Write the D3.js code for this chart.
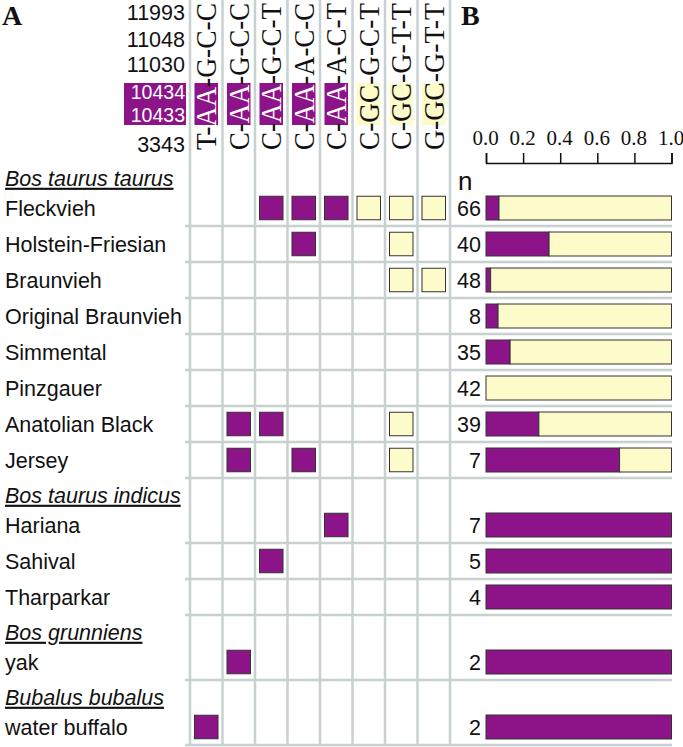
<!DOCTYPE html>
<html>
<head>
<meta charset="utf-8">
<script src="https://cdn.jsdelivr.net/npm/d3@7"></script>
<style>
body { margin: 0; background: #fff; }
svg text { font-family: "Liberation Sans", Arial, Helvetica, sans-serif; fill: #111; }
svg .serif, svg .serif text { font-family: "Liberation Serif", "Times New Roman", serif; }
</style>
</head>
<body>
<div id="chart"></div>
<script>
// mtDNA positions listed in the header, top to bottom
var sites = ["11993", "11048", "11030", "10434", "10433", "3343"];
// haplotype columns, read from position 3343 up to 11993
var haplotypes = ["T-AA-G-C-C", "C-AA-G-C-C", "C-AA-G-C-T", "C-AA-A-C-C",
  "C-AA-A-C-T", "C-GC-G-C-T", "C-GC-G-T-T", "G-GC-G-T-T"];
var groups = ["Bos taurus taurus", "Bos taurus indicus", "Bos grunniens", "Bubalus bubalus"];
var breeds = ["Fleckvieh", "Holstein-Friesian", "Braunvieh", "Original Braunvieh",
  "Simmental", "Pinzgauer", "Anatolian Black", "Jersey",
  "Hariana", "Sahival", "Tharparkar", "yak", "water buffalo"];
var breedGroup = [0, 0, 0, 0, 0, 0, 0, 0, 1, 1, 1, 2, 3];
// haplotype columns (1-based) found in each breed
var foundHaps = [[3, 4, 5, 6, 7, 8], [4, 7], [7, 8], [], [], [], [2, 3, 7], [2, 4, 7],
  [5], [3], [], [2], [1]];
// n and frequency of the AA variant (panel B)
var sampleN = [66, 40, 48, 8, 35, 42, 39, 7, 7, 5, 4, 2, 2];
var freqAA = [0.07, 0.34, 0.025, 0.065, 0.13, 0, 0.285, 0.72, 1, 1, 1, 1, 1];
var freqTicks = [0, 0.2, 0.4, 0.6, 0.8, 1.0];

var W = 683, H = 747;
var purple = "#8c1488", cream = "#fcfbc9", grid = "#c8d0d0";

var svg = d3.select("#chart").append("svg")
  .attr("width", W).attr("height", H);

// layout of the rows: fixed step, extra gap for every species header
var rowStep = 36, headGap = 29, firstRow = 208;
var y = d3.scaleOrdinal()
  .domain(breeds)
  .range(breeds.map(function(b, i) { return firstRow + i * rowStep + breedGroup[i] * headGap; }));
var headY = groups.map(function(g, gi) {
  return y(breeds[breedGroup.indexOf(gi)]) - 30;
});

// columns of panel A
var x = d3.scaleBand().domain(haplotypes).range([190, 450]);
var bw = x.bandwidth();
// panel B scale
var xB = d3.scaleLinear().domain([0, 1]).range([486, 671.5]);

// site label positions in the header
var siteY = d3.scaleOrdinal().domain(sites).range([12, 39, 64, 92, 115, 144]);
var hlTop = 83, hlBottom = 125;

// grid lines
var gridG = svg.append("g");
gridG.selectAll("line.v")
  .data(haplotypes.map(function(h) { return x(h); }).concat([x.range()[1]]))
  .enter().append("line")
  .attr("x1", function(d) { return d; }).attr("x2", function(d) { return d; })
  .attr("y1", 0).attr("y2", 745)
  .attr("stroke", grid).attr("stroke-width", 2.5);
gridG.selectAll("line.h")
  .data(breeds)
  .enter().append("line")
  .attr("x1", 185).attr("x2", 672)
  .attr("y1", function(d) { return y(d) + 18; })
  .attr("y2", function(d) { return y(d) + 18; })
  .attr("stroke", grid).attr("stroke-width", 2.5);

// panel letters
svg.append("text").attr("class", "serif").attr("x", 2).attr("y", 25)
  .style("font-size", "28px").style("font-weight", "bold").text("A");
svg.append("text").attr("class", "serif").attr("x", 461).attr("y", 25)
  .style("font-size", "28px").style("font-weight", "bold").text("B");

// site labels
svg.append("rect")
  .attr("x", 124).attr("y", hlTop).attr("width", 62).attr("height", hlBottom - hlTop)
  .attr("fill", purple);
svg.selectAll(".site")
  .data(sites)
  .enter().append("text")
  .attr("class", "site")
  .attr("x", 185)
  .attr("y", function(d) { return siteY(d); })
  .attr("dy", "0.36em")
  .attr("text-anchor", "end")
  .style("font-size", function(d) { return d === "10434" || d === "10433" ? "19.5px" : "21.5px"; })
  .style("fill", function(d) { return d === "10434" || d === "10433" ? "#fff" : "#111"; })
  .text(function(d) { return d; });

// haplotype header highlights and text
var hapG = svg.selectAll(".hap")
  .data(haplotypes)
  .enter().append("g").attr("class", "hap serif");
hapG.append("rect")
  .attr("x", function(d) { return x(d) + bw / 2 - 11.75; })
  .attr("y", hlTop).attr("width", 23.5).attr("height", hlBottom - hlTop)
  .attr("fill", function(d) { return d.slice(2, 4) === "AA" ? purple : cream; });
var hapText = hapG.append("text")
  .attr("transform", function(d) {
    return "translate(" + (x(d) + bw / 2 + 10) + ",150) rotate(-90) scale(1,1.15)";
  })
  .attr("textLength", 147)
  .attr("lengthAdjust", "spacingAndGlyphs")
  .style("font-size", "26.5px");
hapText.append("tspan").text(function(d) { return d.slice(0, 2); });
hapText.append("tspan")
  .style("fill", function(d) { return d.slice(2, 4) === "AA" ? "#fff" : "#111"; })
  .text(function(d) { return d.slice(2, 4); });
hapText.append("tspan").text(function(d) { return d.slice(4); });

// species headers
svg.selectAll(".grp")
  .data(groups)
  .enter().append("text")
  .attr("x", 5)
  .attr("y", function(d, i) { return headY[i]; })
  .attr("dy", "0.36em")
  .style("font-size", "21.5px")
  .style("font-style", "italic")
  .style("text-decoration", "underline")
  .text(function(d) { return d; });

// breed labels
svg.selectAll(".breed")
  .data(breeds)
  .enter().append("text")
  .attr("x", 5)
  .attr("y", function(d) { return y(d); })
  .attr("dy", "0.36em")
  .style("font-size", "21.5px")
  .text(function(d) { return d; });

// presence squares
var cells = [];
breeds.forEach(function(b, i) {
  foundHaps[i].forEach(function(c) { cells.push({breed: b, hap: haplotypes[c - 1]}); });
});
svg.selectAll(".cell")
  .data(cells)
  .enter().append("rect")
  .attr("x", function(d) { return x(d.hap) + bw / 2 - 11.75; })
  .attr("y", function(d) { return y(d.breed) - 11.75; })
  .attr("width", 23.5).attr("height", 23.5)
  .attr("fill", function(d) { return d.hap.slice(2, 4) === "AA" ? purple : cream; })
  .attr("stroke", "#333").attr("stroke-width", 1);

// panel B axis
var axis = svg.append("g")
  .attr("class", "serif")
  .attr("transform", "translate(0,163)")
  .call(d3.axisTop(xB).tickValues(freqTicks).tickFormat(d3.format(".1f"))
    .tickSize(10).tickSizeOuter(10).tickPadding(8));
axis.selectAll("text").style("font-size", "21px").attr("fill", "#111").attr("dx", "-1");
axis.selectAll("path, line").attr("stroke", "#111").attr("stroke-width", 1.5);

svg.append("text").attr("x", 458).attr("y", 190)
  .style("font-size", "26px").text("n");

svg.selectAll(".nval")
  .data(breeds)
  .enter().append("text")
  .attr("x", 481)
  .attr("y", function(d) { return y(d); })
  .attr("dy", "0.36em")
  .attr("text-anchor", "end")
  .style("font-size", "21.5px")
  .text(function(d, i) { return sampleN[i]; });

// stacked bars: AA share purple, rest cream
var barH = 24;
var barG = svg.selectAll(".bar")
  .data(breeds)
  .enter().append("g").attr("class", "bar");
barG.filter(function(d, i) { return freqAA[i] > 0; })
  .append("rect")
  .attr("x", xB(0))
  .attr("y", function(d) { return y(d) - barH / 2; })
  .attr("width", function(d) { return xB(freqAA[breeds.indexOf(d)]) - xB(0); })
  .attr("height", barH)
  .attr("fill", purple).attr("stroke", "#333").attr("stroke-width", 1);
barG.filter(function(d, i) { return freqAA[i] < 1; })
  .append("rect")
  .attr("x", function(d) { return xB(freqAA[breeds.indexOf(d)]); })
  .attr("y", function(d) { return y(d) - barH / 2; })
  .attr("width", function(d) { return xB(1) - xB(freqAA[breeds.indexOf(d)]); })
  .attr("height", barH)
  .attr("fill", cream).attr("stroke", "#333").attr("stroke-width", 1);
</script>
</body>
</html>
